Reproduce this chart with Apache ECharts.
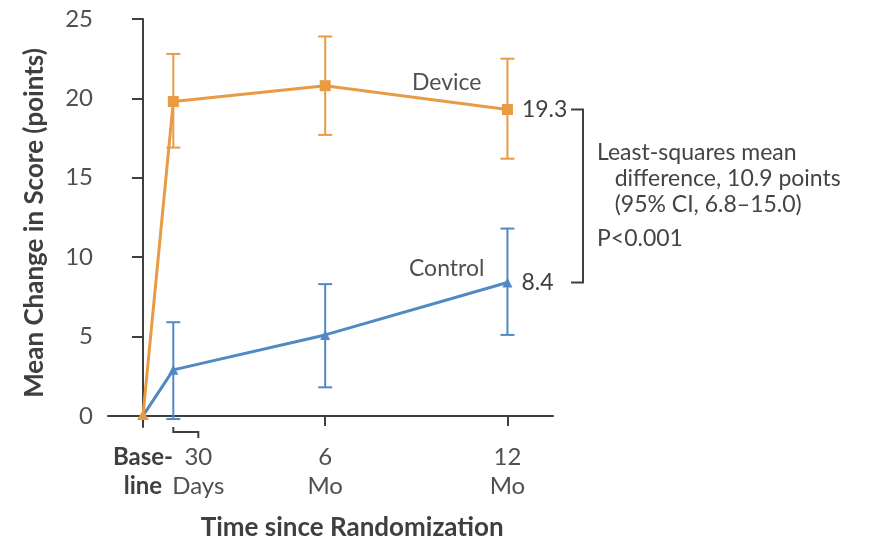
<!DOCTYPE html>
<html><head><meta charset="utf-8">
<script src="https://cdn.jsdelivr.net/npm/echarts@6/dist/echarts.min.js"></script>
<style>html,body{margin:0;padding:0;background:#fff}#chart{width:869px;height:542px}</style>
</head><body><div id="chart"></div>
<script>
// Time points (months since randomization) and their axis labels
const months = [0, 1, 6, 12];
const tickLabels = ['Base-\nline', '30\nDays', '6\nMo', '12\nMo'];
const yTicks = [0, 5, 10, 15, 20, 25];

// Device group: least-squares mean change and 95% CI
const deviceMean = [0, 19.8, 20.8, 19.3];
const deviceLow = [null, 16.9, 17.7, 16.2];
const deviceHigh = [null, 22.8, 23.9, 22.5];

// Control group
const controlMean = [0, 2.9, 5.1, 8.4];
const controlLow = [null, -0.2, 1.8, 5.1];
const controlHigh = [null, 5.9, 8.3, 11.8];

const diffLines = ['Least-squares mean', '   difference, 10.9 points', '   (95% CI, 6.8–15.0)', 'P<0.001'];

const ORANGE = '#E89B43';
const BLUE = '#5189C4';
const INK = '#3f3f3f';
const GREY = '#505050';
const FONT = 'Lato';

const pairs = (ys) => months.map((m, i) => [m, ys[i]]);
const bars = (lo, hi) => months.map((m, i) => [m, lo[i], hi[i]]).filter(d => d[1] != null);

function errorBar(color) {
  return function (params, api) {
    const x = api.value(0);
    const top = api.coord([x, api.value(2)]);
    const bot = api.coord([x, api.value(1)]);
    const w = 7;
    const style = { stroke: color, lineWidth: 2 };
    return {
      type: 'group',
      children: [
        { type: 'line', shape: { x1: top[0], y1: top[1], x2: bot[0], y2: bot[1] }, style },
        { type: 'line', shape: { x1: top[0] - w, y1: top[1], x2: top[0] + w, y2: top[1] }, style },
        { type: 'line', shape: { x1: bot[0] - w, y1: bot[1], x2: bot[0] + w, y2: bot[1] }, style }
      ]
    };
  };
}

// Last point carries its value as a label; the shared baseline point gets its own marker
const lastLabel = p => (p.dataIndex === months.length - 1 ? p.value[1].toFixed(1) : '');
const markerOf = shape => (v, p) => (p.dataIndex === 0 ? 'none' : shape);

const chart = echarts.init(document.getElementById('chart'));
chart.setOption({
  animation: false,
  grid: { left: 108, right: 316, top: 19, bottom: 115 },
  xAxis: {
    type: 'value', min: -1.15, max: 13.5,
    splitLine: { show: false },
    axisLine: { lineStyle: { color: INK, width: 2 } },
    axisTick: { customValues: [0, 6, 12], length: 10, lineStyle: { color: INK, width: 2 } },
    axisLabel: { show: false }
  },
  yAxis: {
    type: 'value', min: -0.7, max: 25,
    splitLine: { show: false },
    axisLine: { show: true, lineStyle: { color: INK, width: 2 } },
    axisTick: { show: true, customValues: yTicks, length: 11, lineStyle: { color: INK, width: 2 } },
    axisLabel: { customValues: yTicks, color: GREY, fontFamily: FONT, fontSize: 24, margin: 15 },
    name: 'Mean Change in Score (points)',
    nameLocation: 'middle', nameGap: 60, nameRotate: 90,
    nameTextStyle: { fontFamily: FONT, fontSize: 26, fontWeight: 'bold', color: INK }
  },
  series: [
    { type: 'custom', renderItem: errorBar(ORANGE), data: bars(deviceLow, deviceHigh), z: 2 },
    { type: 'custom', renderItem: errorBar(BLUE), data: bars(controlLow, controlHigh), z: 2 },
    {
      name: 'Control', type: 'line', data: pairs(controlMean), z: 3,
      symbol: markerOf('triangle'), symbolSize: 10, showAllSymbol: true,
      lineStyle: { color: BLUE, width: 3 }, itemStyle: { color: BLUE },
      label: { show: true, position: 'right', distance: 9, fontFamily: FONT, fontSize: 23, color: INK, formatter: lastLabel }
    },
    {
      name: 'Device', type: 'line', data: pairs(deviceMean), z: 4,
      symbol: markerOf('rect'), symbolSize: 11, showAllSymbol: true,
      lineStyle: { color: ORANGE, width: 3 }, itemStyle: { color: ORANGE },
      label: { show: true, position: 'right', distance: 9, fontFamily: FONT, fontSize: 23, color: INK, formatter: lastLabel }
    }
  ]
});

function px(x, y) { return chart.convertToPixel({ gridIndex: 0 }, [x, y]); }

const g = [];
// Baseline marker shared by both groups
const base = px(months[0], deviceMean[0]);
g.push({ type: 'polygon', z: 10, shape: { points: [[base[0], base[1] - 6], [base[0] - 6, base[1] + 4], [base[0] + 6, base[1] + 4]] }, style: { fill: ORANGE } });

// Tick labels under the time axis; the 30-day tick bends out to its label
const axisY = px(0, -0.7)[1];
const labelShift = [0, 25, 0, 0];
months.forEach((m, i) => {
  const p = px(m, 0);
  tickLabels[i].split('\n').forEach((t, j) => {
    g.push({
      type: 'text', x: p[0] + labelShift[i], y: axisY + 30 + j * 29,
      style: { text: t, fontFamily: FONT, fontSize: 24, fontWeight: i === 0 ? 'bold' : 'normal',
        fill: i === 0 ? INK : GREY, align: 'center', verticalAlign: 'middle' }
    });
  });
});
const d30 = px(months[1], 0)[0];
g.push({ type: 'polyline', shape: { points: [[d30, axisY], [d30, axisY + 5], [d30 + labelShift[1], axisY + 5], [d30 + labelShift[1], axisY + 11]] },
  style: { stroke: INK, lineWidth: 2, fill: null } });

g.push({ type: 'text', x: px(6, 0)[0] + 27, y: axisY + 101,
  style: { text: 'Time since Randomization', fontFamily: FONT, fontSize: 26, fontWeight: 'bold', fill: INK, align: 'center', verticalAlign: 'middle' } });

// Group names beside their lines
g.push({ type: 'text', x: px(10.0, 0)[0], y: px(0, 21.0)[1],
  style: { text: 'Device', fontFamily: FONT, fontSize: 23, fill: GREY, align: 'center', verticalAlign: 'middle' } });
g.push({ type: 'text', x: px(10.0, 0)[0], y: px(0, 9.3)[1],
  style: { text: 'Control', fontFamily: FONT, fontSize: 23, fill: GREY, align: 'center', verticalAlign: 'middle' } });

// Bracket joining the two 12-month means, with the difference note
const last = months.length - 1;
const topY = px(0, deviceMean[last])[1];
const botY = px(0, controlMean[last])[1];
const bx = 583;
g.push({ type: 'polyline', shape: { points: [[bx - 12, topY], [bx, topY], [bx, botY], [bx - 12, botY]] },
  style: { stroke: INK, lineWidth: 2, fill: null } });
const noteOffsets = [43, 69, 95, 129];
diffLines.forEach((t, i) => {
  g.push({ type: 'text', x: bx + 14, y: topY + noteOffsets[i],
    style: { text: t, fontFamily: FONT, fontSize: 23, fill: '#444', align: 'left', verticalAlign: 'middle' } });
});

chart.setOption({ graphic: { elements: g } });
</script>
</body></html>
